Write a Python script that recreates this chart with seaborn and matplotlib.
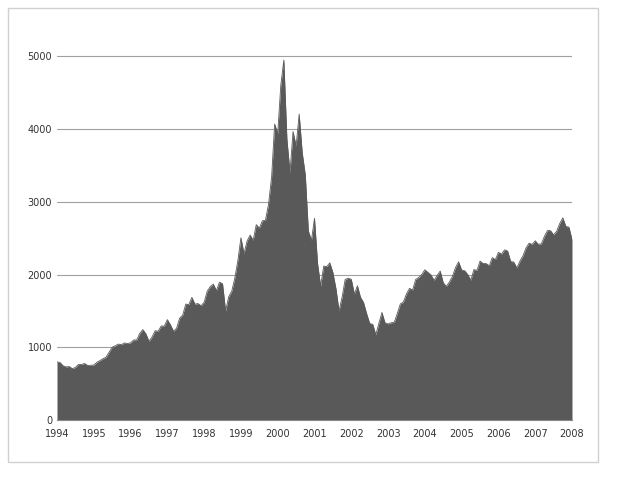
import matplotlib
matplotlib.use("Agg")
import matplotlib.pyplot as plt
import numpy as np
import pandas as pd
import seaborn as sns
from matplotlib.patches import Rectangle

sns.set_style("white")
plt.rcParams["font.family"] = ["DejaVu Sans"]

# monthly index level, Jan 1994 .. Jan 2008
values_1994 = [800, 790, 745, 730, 735, 706, 722, 765, 764, 777, 750, 752]
values_1995 = [755, 793, 817, 843, 864, 933, 1001, 1020, 1044, 1036, 1059, 1052]
values_1996 = [1060, 1100, 1101, 1191, 1243, 1185, 1081, 1141, 1227, 1222, 1293, 1291]
values_1997 = [1380, 1309, 1221, 1261, 1400, 1442, 1594, 1587, 1686, 1593, 1601, 1570]
values_1998 = [1620, 1771, 1835, 1868, 1779, 1895, 1873, 1499, 1694, 1771, 1950, 2193]
values_1999 = [2505, 2288, 2461, 2542, 2471, 2686, 2638, 2739, 2746, 2966, 3336, 4069]
values_2000 = [3940, 4600, 4950, 3860, 3400, 3966, 3767, 4206, 3673, 3370, 2598, 2470]
values_2001 = [2773, 2152, 1840, 2116, 2110, 2161, 2027, 1805, 1499, 1690, 1931, 1950]
values_2002 = [1934, 1731, 1845, 1688, 1616, 1463, 1328, 1315, 1172, 1330, 1479, 1336]
values_2003 = [1321, 1337, 1341, 1464, 1596, 1623, 1735, 1810, 1787, 1932, 1960, 2003]
values_2004 = [2066, 2030, 1994, 1920, 1987, 2048, 1887, 1838, 1897, 1975, 2096, 2175]
values_2005 = [2062, 2052, 1999, 1922, 2068, 2057, 2185, 2152, 2151, 2120, 2233, 2205]
values_2006 = [2306, 2281, 2340, 2323, 2179, 2172, 2091, 2184, 2258, 2367, 2432, 2415]
values_2007 = [2464, 2416, 2422, 2525, 2605, 2603, 2546, 2596, 2702, 2780, 2661, 2652]
values_2008 = [2480]

values = (values_1994 + values_1995 + values_1996 + values_1997 + values_1998
          + values_1999 + values_2000 + values_2001 + values_2002 + values_2003
          + values_2004 + values_2005 + values_2006 + values_2007 + values_2008)
years = [str(y) for y in range(1994, 2009)]

df = pd.DataFrame({"t": 1994 + np.arange(len(values)) / 12, "v": values})

fig = plt.figure(figsize=(6.22, 4.8), dpi=100)
fig.patches.append(Rectangle((8 / 622, 18 / 480), 590 / 622, 454 / 480,
                             transform=fig.transFigure, fill=False,
                             edgecolor="#d0d0d0", linewidth=1))
ax = fig.add_axes([57 / 622, 60 / 480, 515 / 622, 400 / 480])
sns.lineplot(data=df, x="t", y="v", ax=ax, color="#595959", linewidth=0.6)
ax.fill_between(df["t"], df["v"], color="#595959", linewidth=0)
ax.set_xlim(1994, 2008)
ax.set_ylim(0, 5500)
ax.set_yticks(range(0, 5001, 1000))
ax.set_xticks(range(1994, 2009))
ax.set_xticklabels(years)
ax.tick_params(labelsize=7, colors="#333333", length=3)
ax.tick_params(axis="y", length=0)
ax.yaxis.grid(True, color="#a0a0a0", linewidth=0.8)
ax.set_axisbelow(True)
for s in ["top", "right", "left"]:
    ax.spines[s].set_visible(False)
ax.spines["bottom"].set_color("#888888")
ax.set_xlabel("")
ax.set_ylabel("")
fig.savefig("out.png", dpi=100)
